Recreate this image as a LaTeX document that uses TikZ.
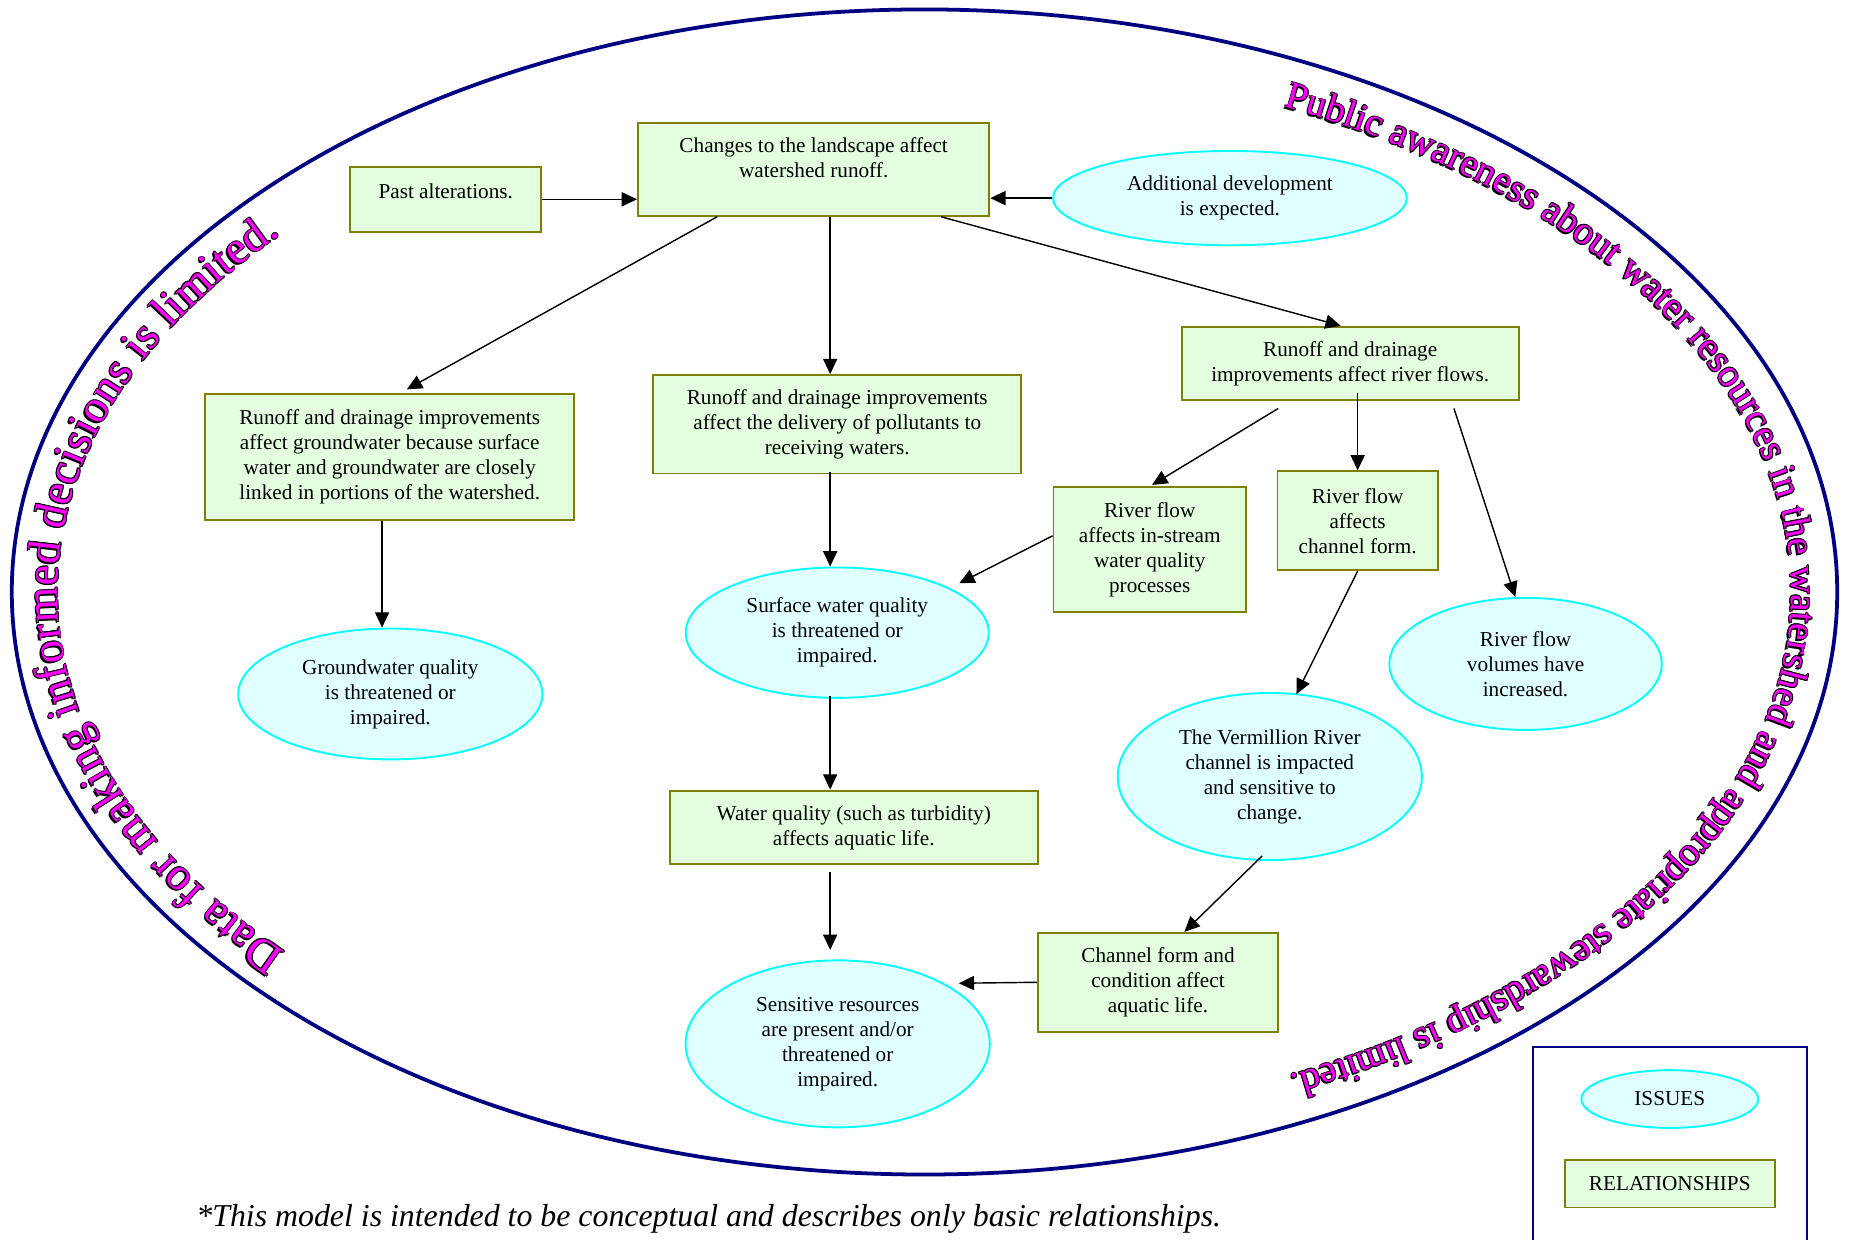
\documentclass[tikz,border=0pt]{standalone}
\usepackage{fontspec}
\setmainfont{Liberation Serif}
\usetikzlibrary{shapes.geometric,arrows.meta,calc,decorations.text}
\definecolor{boxfill}{HTML}{E3FFE0}
\definecolor{boxline}{HTML}{808000}
\definecolor{ellfill}{HTML}{E0FFFF}
\definecolor{ellline}{HTML}{00FFFF}
\definecolor{navyline}{HTML}{000080}
\definecolor{wordart}{HTML}{FF00FF}
\newcommand{\wordartL}{\fontsize{19.5}{22}\selectfont}
\newcommand{\wordartR}{\fontsize{16.5}{19}\selectfont}
\begin{document}
\begin{tikzpicture}[x=0.5pt,y=0.5pt,
  rel/.style={draw=boxline, fill=boxfill, line width=0.8pt, rectangle, inner sep=0pt, align=center, font=\fontsize{9}{10.6}\selectfont},
  iss/.style={draw=ellline, fill=ellfill, line width=0.8pt, ellipse, inner sep=0pt, align=center, font=\fontsize{9}{10.6}\selectfont},
  arr/.style={-{Triangle[length=6.5pt,width=6pt]}, line width=0.6pt, black},
]
\useasboundingbox (0,0) rectangle (1568,-1051);
\clip (0,0) rectangle (1568,-1051);
\coordinate (C) at (784,-502);
\draw[navyline, line width=1.6pt] (C) ellipse [x radius=774, y radius=494];

% WordArt-like curved texts: black outline and shadow copies, then magenta letters
\foreach \dx/\dy in {-0.4/0,0.4/0,0/0.4,0/-0.4,0.28/0.28,-0.28/0.28,0.28/-0.28,-0.28/-0.28,-0.6/-0.6}{
  \begin{scope}[transform canvas={shift={(\dx pt,\dy pt)}}]
    \path[decorate, decoration={text along path, text align={fit to path}, text={|\wordartL\color{black}|Data for making informed decisions is limited.}}]
      ({784+735*cos(222.5)},{-502+452*sin(222.5)}) arc[start angle=222.5, end angle=138, x radius=735, y radius=452];
    \path[decorate, decoration={text along path, text align={fit to path}, text={|\wordartR\color{black}|Public awareness about water resources in the watershed and appropriate stewardship is limited.}}]
      ({784+735*cos(65.5)},{-502+452*sin(65.5)}) arc[start angle=65.5, end angle=-65, x radius=735, y radius=452];
  \end{scope}
}
\path[decorate, decoration={text along path, text align={fit to path}, text={|\wordartL\color{wordart}|Data for making informed decisions is limited.}}]
  ({784+735*cos(222.5)},{-502+452*sin(222.5)}) arc[start angle=222.5, end angle=138, x radius=735, y radius=452];
\path[decorate, decoration={text along path, text align={fit to path}, text={|\wordartR\color{wordart}|Public awareness about water resources in the watershed and appropriate stewardship is limited.}}]
  ({784+735*cos(65.5)},{-502+452*sin(65.5)}) arc[start angle=65.5, end angle=-65, x radius=735, y radius=452];

% nodes
\node[rel, minimum width=149pt, minimum height=39.5pt] (b1) at (690,-143.5) {\raisebox{4pt}[\height][\depth]{\begin{tabular}{@{}c@{}}Changes to the landscape affect\\ watershed runoff.\end{tabular}}};
\node[rel, minimum width=81pt, minimum height=27.5pt] (b0) at (378,-169) {\raisebox{3.25pt}[\height][\depth]{Past alterations.}};
\node[iss, minimum width=150pt, minimum height=40pt] (e0) at (1043,-168) {Additional development\\is expected.};
\node[rel, minimum width=143pt, minimum height=31.25pt] (b4) at (1145,-308.3) {Runoff and drainage\\improvements affect river flows.};
\node[rel, minimum width=156pt, minimum height=41.75pt] (b5) at (710,-359.8) {Runoff and drainage improvements\\affect the delivery of pollutants to\\receiving waters.};
\node[rel, minimum width=156.5pt, minimum height=53.5pt] (b6) at (330.5,-387.5) {Runoff and drainage improvements\\affect groundwater because surface\\water and groundwater are closely\\linked in portions of the watershed.};
\node[iss, minimum width=129pt, minimum height=55.5pt] (egw) at (331,-588.5) {Groundwater quality\\is threatened or\\impaired.};
\node[iss, minimum width=128.5pt, minimum height=55.3pt] (esw) at (710,-536.5) {Surface water quality\\is threatened or\\impaired.};
\node[rel, minimum width=81.65pt, minimum height=52.85pt] (b9) at (975,-465.9) {River flow\\affects in-stream\\water quality\\processes};
\node[rel, minimum width=68pt, minimum height=41.9pt] (b10) at (1151.3,-441.6) {River flow\\affects\\channel form.};
\node[iss, minimum width=115.5pt, minimum height=56pt] (evol) at (1293.7,-563) {River flow\\volumes have\\increased.};
\node[iss, minimum width=129pt, minimum height=70.85pt] (ever) at (1076.8,-658.5) {The Vermillion River\\channel is impacted\\and sensitive to\\change.};
\node[rel, minimum width=156pt, minimum height=31pt] (b13) at (724,-702) {Water quality (such as turbidity)\\affects aquatic life.};
\node[iss, minimum width=129pt, minimum height=70.8pt] (esens) at (710.4,-885.2) {Sensitive resources\\are present and/or\\threatened or\\impaired.};
\node[rel, minimum width=102pt, minimum height=42pt] (b15) at (982,-833) {Channel form and\\condition affect\\aquatic life.};

% legend
\node[draw=navyline, line width=0.8pt, minimum width=116pt, minimum height=87pt, inner sep=0pt] (legend) at (1416,-975) {};
\node[iss, minimum width=75pt, minimum height=24.5pt] (liss) at (1416,-932) {ISSUES};
\node[rel, minimum width=89pt, minimum height=20pt] (lrel) at (1416,-1004) {RELATIONSHIPS};

% footer
\node[anchor=base, font=\fontsize{13.5}{16}\selectfont\itshape, inner sep=0pt] (foot) at (601,-1040) {*This model is intended to be conceptual and describes only basic relationships.};

% connectors
\draw[arr] (b0.east) -- (b0.east -| b1.west);
\draw[arr] (e0.west) -- (e0.west -| b1.east);
\draw[arr] ($(b1.south west)+(68,0)$) -- ($(b6.north)+(14.5,3)$);
\draw[arr] ($(b1.south)+(14,0)$) -- ($(b5.north)+(-6,0)$);
\draw[arr] ($(b1.south)+(108,0)$) -- ($(b4.north)+(-8,0)$);
\draw[arr] ($(b5.south)+(-6,2)$) -- ($(esw.north)+(-6,0)$);
\draw[arr] ($(b6.south)+(-6.5,0)$) -- ($(egw.north)+(-7,0)$);
\draw[arr] ($(b4.south)+(-61,-6)$) -- ($(b9.north)+(2,1)$);
\draw[arr] ($(b4.south)+(6.3,7.5)$) -- (b10.north);
\draw[arr] ($(b4.south)+(88,-6)$) -- ($(evol.north)+(-8.7,0)$);
\draw[arr] ($(b9.west)+(0,11.5)$) -- ($(esw.center)+(103.5,41.9)$);
\draw[arr] (b10.south) -- ($(ever.center)+(22.6,69.8)$);
\draw[arr] ($(esw.south)+(-6,2.4)$) -- ($(b13.north)+(-20,0.6)$);
\draw[arr] ($(b13.south)+(-20,-5.4)$) -- ($(esens.north)+(-6.4,8.1)$);
\draw[arr] ($(ever.south)+(-6.5,4.3)$) -- ($(b15.north)+(22.4,0)$);
\draw[arr] (b15.west) -- ($(esens.center)+(102.6,51.4)$);
\end{tikzpicture}
\end{document}
